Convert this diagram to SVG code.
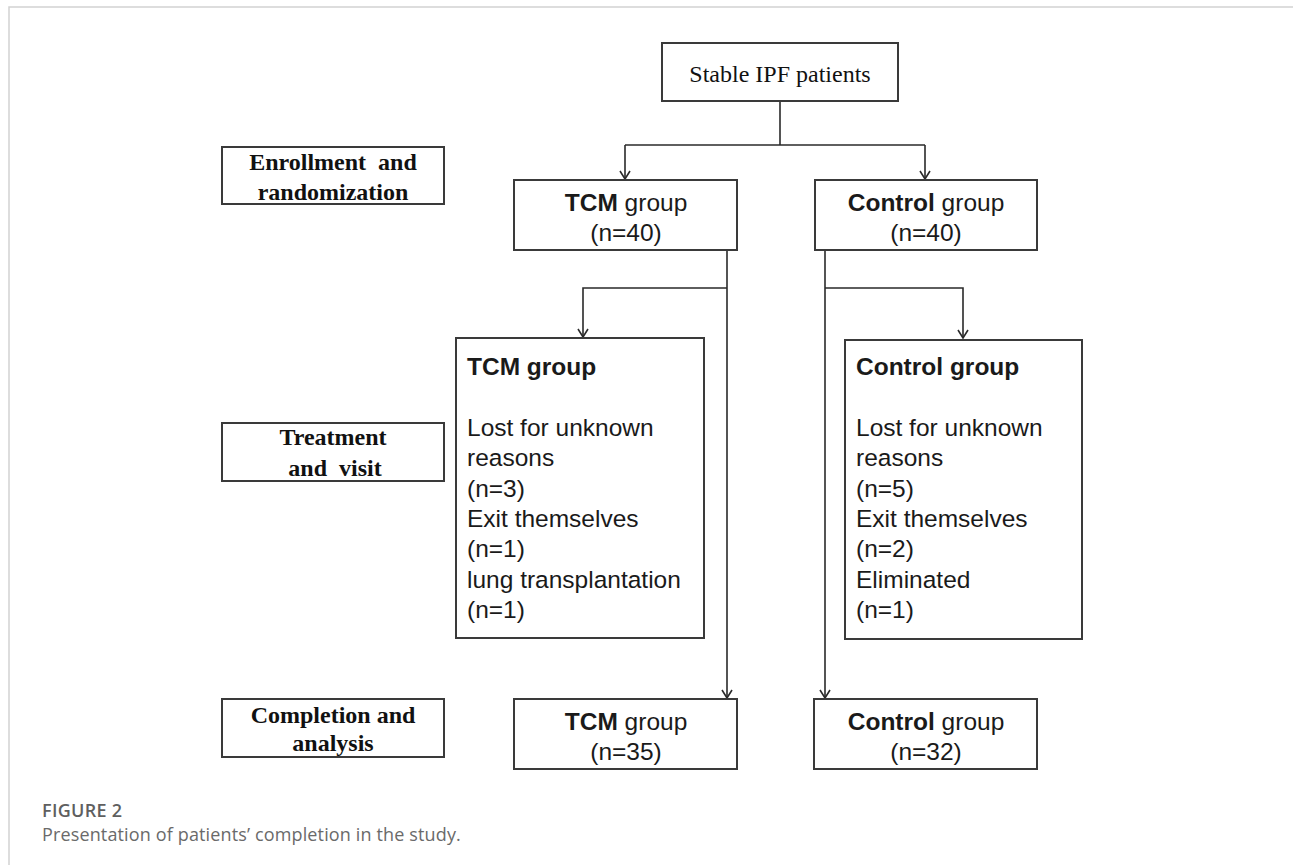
<svg xmlns="http://www.w3.org/2000/svg" width="1293" height="865" viewBox="0 0 1293 865">
<style>
.box{fill:#fff;stroke:#3a3a3a;stroke-width:2}
.conn{fill:none;stroke:#2a2a2a;stroke-width:1.6}
.serif{font-family:"Liberation Serif","Times New Roman",serif;font-size:24px;fill:#111}
.serifb{font-family:"Liberation Serif","Times New Roman",serif;font-size:24px;font-weight:bold;fill:#111}
.sans{font-family:"Liberation Sans",Arial,sans-serif;font-size:24.5px;fill:#1a1a1a}
.b{font-weight:bold}
.cap1{font-family:"Open Sans","Noto Sans",sans-serif;font-size:18px;font-weight:600;fill:#5f5f5f;letter-spacing:0.3px}
.cap2{font-family:"Open Sans","Noto Sans",sans-serif;font-size:18px;fill:#6a6a6a;letter-spacing:0.14px}
</style>
<defs>
<marker id="arr" viewBox="0 0 12 12" refX="11" refY="6" markerWidth="12" markerHeight="12" markerUnits="userSpaceOnUse" orient="auto">
<path d="M3,1 L11,6 L3,11" fill="none" stroke="#2a2a2a" stroke-width="1.6"/>
</marker>
</defs>
<rect width="1293" height="865" fill="#fff"/>
<path d="M9,865 L9,7 L1293,7" fill="none" stroke="#d2d2d2" stroke-width="1.5"/>

<g id="connectors">
<path class="conn" d="M780,101 L780,145"/>
<path class="conn" d="M625,145 L925,145"/>
<path class="conn" d="M625,145 L625,179" marker-end="url(#arr)"/>
<path class="conn" d="M925,145 L925,179" marker-end="url(#arr)"/>
<path class="conn" d="M727,250 L727,698" marker-end="url(#arr)"/>
<path class="conn" d="M727,288 L583,288 L583,337" marker-end="url(#arr)"/>
<path class="conn" d="M825,250 L825,698" marker-end="url(#arr)"/>
<path class="conn" d="M825,288 L963,288 L963,338" marker-end="url(#arr)"/>
</g>

<g id="stable">
<rect class="box" x="662" y="43" width="236" height="58"/>
<text class="serif" x="780" y="82" text-anchor="middle">Stable IPF patients</text>
</g>

<g id="label-enroll">
<rect class="box" x="222" y="147" width="222" height="57"/>
<text class="serifb" x="333" y="170" text-anchor="middle" xml:space="preserve">Enrollment  and</text>
<text class="serifb" x="333" y="200" text-anchor="middle">randomization</text>
</g>

<g id="label-treat">
<rect class="box" x="222" y="423" width="222" height="58"/>
<text class="serifb" x="333" y="445" text-anchor="middle">Treatment</text>
<text class="serifb" x="335" y="476" text-anchor="middle" xml:space="preserve">and  visit</text>
</g>

<g id="label-complete">
<rect class="box" x="222" y="699" width="222" height="58"/>
<text class="serifb" x="333" y="723" text-anchor="middle">Completion and</text>
<text class="serifb" x="333" y="751" text-anchor="middle">analysis</text>
</g>

<g id="tcm-enroll">
<rect class="box" x="514" y="180" width="223" height="70"/>
<text class="sans" x="626" y="211" text-anchor="middle"><tspan class="b">TCM</tspan> group</text>
<text class="sans" x="626" y="241" text-anchor="middle">(n=40)</text>
</g>

<g id="control-enroll">
<rect class="box" x="815" y="180" width="222" height="70"/>
<text class="sans" x="926" y="211" text-anchor="middle"><tspan class="b">Control</tspan> group</text>
<text class="sans" x="926" y="241" text-anchor="middle">(n=40)</text>
</g>

<g id="tcm-visit">
<rect class="box" x="456" y="338" width="248" height="300"/>
<text class="sans b" x="467" y="375">TCM group</text>
<text class="sans" x="467" y="436">Lost for unknown</text>
<text class="sans" x="467" y="466">reasons</text>
<text class="sans" x="467" y="497">(n=3)</text>
<text class="sans" x="467" y="527">Exit themselves</text>
<text class="sans" x="467" y="557">(n=1)</text>
<text class="sans" x="467" y="588">lung transplantation</text>
<text class="sans" x="467" y="618">(n=1)</text>
</g>

<g id="control-visit">
<rect class="box" x="845" y="340" width="237" height="299"/>
<text class="sans b" x="856" y="375">Control group</text>
<text class="sans" x="856" y="436">Lost for unknown</text>
<text class="sans" x="856" y="466">reasons</text>
<text class="sans" x="856" y="497">(n=5)</text>
<text class="sans" x="856" y="527">Exit themselves</text>
<text class="sans" x="856" y="557">(n=2)</text>
<text class="sans" x="856" y="588">Eliminated</text>
<text class="sans" x="856" y="618">(n=1)</text>
</g>

<g id="tcm-complete">
<rect class="box" x="514" y="699" width="223" height="70"/>
<text class="sans" x="626" y="730" text-anchor="middle"><tspan class="b">TCM</tspan> group</text>
<text class="sans" x="626" y="760" text-anchor="middle">(n=35)</text>
</g>

<g id="control-complete">
<rect class="box" x="814" y="699" width="223" height="70"/>
<text class="sans" x="926" y="730" text-anchor="middle"><tspan class="b">Control</tspan> group</text>
<text class="sans" x="926" y="760" text-anchor="middle">(n=32)</text>
</g>

<g id="caption">
<text class="cap1" x="42" y="817">FIGURE 2</text>
<text class="cap2" x="42" y="841">Presentation of patients’ completion in the study.</text>
</g>
</svg>
